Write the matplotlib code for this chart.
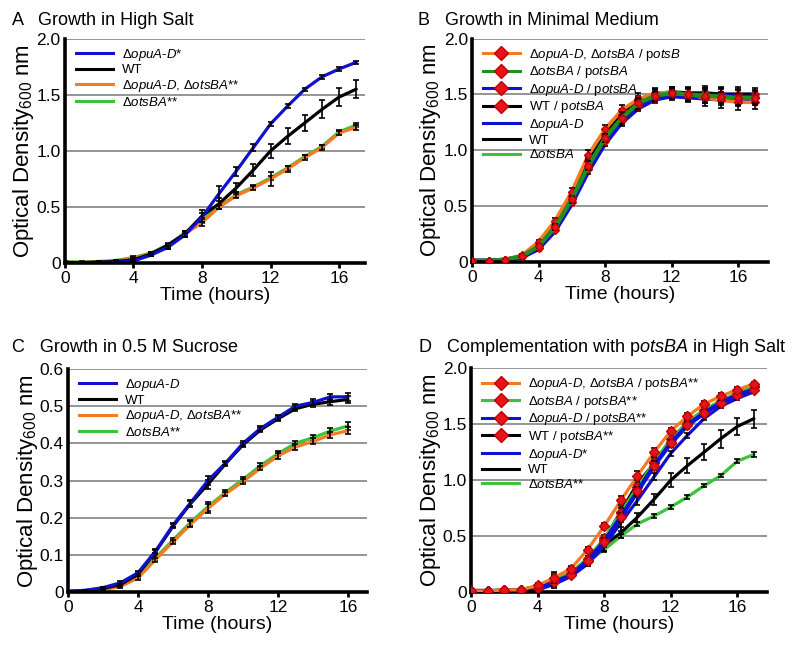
import numpy as np
import matplotlib
matplotlib.use("Agg")
import matplotlib.pyplot as plt
from matplotlib.lines import Line2D

plt.rcParams['font.family'] = 'Liberation Sans'
plt.rcParams['mathtext.fontset'] = 'custom'
plt.rcParams['mathtext.rm'] = 'Liberation Sans'
plt.rcParams['mathtext.it'] = 'Liberation Sans:italic'

# ---- data (OD600) ----
hours17 = np.arange(18)
hours16 = np.arange(17)

# A: high salt
a_opuA = [0.00, 0.00, 0.005, 0.01, 0.02, 0.07, 0.14, 0.25, 0.41, 0.62, 0.82, 1.03, 1.24, 1.40, 1.55, 1.66, 1.73, 1.79]
a_opuA_err = [0.005, 0.005, 0.005, 0.005, 0.01, 0.01, 0.015, 0.02, 0.04, 0.07, 0.04, 0.03, 0.02, 0.02, 0.015, 0.015, 0.015, 0.015]
a_wt = [0.005, 0.005, 0.01, 0.015, 0.03, 0.08, 0.16, 0.26, 0.42, 0.53, 0.67, 0.83, 1.00, 1.13, 1.25, 1.37, 1.48, 1.55]
a_wt_err = [0.005, 0.005, 0.005, 0.01, 0.01, 0.015, 0.02, 0.03, 0.05, 0.05, 0.04, 0.05, 0.06, 0.07, 0.07, 0.08, 0.08, 0.08]
a_double = [0.01, 0.005, 0.01, 0.02, 0.045, 0.08, 0.15, 0.26, 0.36, 0.50, 0.60, 0.67, 0.75, 0.84, 0.94, 1.03, 1.16, 1.21]
a_double_err = [0.005, 0.005, 0.005, 0.005, 0.01, 0.015, 0.02, 0.03, 0.03, 0.02, 0.02, 0.015, 0.06, 0.03, 0.02, 0.02, 0.02, 0.02]
a_ots = [0.015, 0.01, 0.015, 0.025, 0.05, 0.09, 0.16, 0.27, 0.38, 0.50, 0.61, 0.68, 0.76, 0.85, 0.95, 1.04, 1.17, 1.23]
a_ots_err = [0.005, 0.005, 0.005, 0.005, 0.01, 0.01, 0.015, 0.02, 0.02, 0.02, 0.02, 0.015, 0.02, 0.02, 0.015, 0.015, 0.02, 0.02]

# B: minimal medium
b_double_c = [0.01, 0.01, 0.02, 0.06, 0.18, 0.37, 0.63, 0.96, 1.19, 1.36, 1.46, 1.51, 1.52, 1.50, 1.47, 1.45, 1.43, 1.43]
b_ots_c = [0.01, 0.01, 0.02, 0.05, 0.14, 0.31, 0.56, 0.86, 1.11, 1.29, 1.42, 1.49, 1.51, 1.50, 1.49, 1.48, 1.47, 1.47]
b_opuA_c = [0.01, 0.01, 0.015, 0.045, 0.12, 0.29, 0.54, 0.83, 1.08, 1.27, 1.40, 1.47, 1.50, 1.49, 1.49, 1.49, 1.48, 1.48]
b_wt_c = [0.01, 0.01, 0.02, 0.05, 0.15, 0.33, 0.59, 0.90, 1.14, 1.32, 1.44, 1.50, 1.52, 1.51, 1.51, 1.50, 1.50, 1.50]
b_opuA = [0.005, 0.005, 0.01, 0.035, 0.11, 0.27, 0.51, 0.80, 1.05, 1.24, 1.37, 1.45, 1.48, 1.47, 1.46, 1.45, 1.45, 1.45]
b_wt = [0.01, 0.01, 0.02, 0.05, 0.14, 0.31, 0.57, 0.87, 1.12, 1.31, 1.44, 1.50, 1.51, 1.51, 1.50, 1.50, 1.49, 1.49]
b_ots = [0.01, 0.01, 0.02, 0.045, 0.13, 0.30, 0.55, 0.85, 1.10, 1.29, 1.42, 1.49, 1.50, 1.50, 1.49, 1.48, 1.48, 1.48]
b_err = [0.005, 0.005, 0.005, 0.01, 0.02, 0.025, 0.03, 0.04, 0.04, 0.05, 0.05, 0.05, 0.05, 0.06, 0.07, 0.07, 0.07, 0.06]

# C: 0.5 M sucrose
c_opuA = [0.002, 0.005, 0.012, 0.025, 0.052, 0.11, 0.18, 0.24, 0.30, 0.347, 0.40, 0.44, 0.47, 0.50, 0.51, 0.525, 0.525]
c_wt = [0.002, 0.004, 0.01, 0.02, 0.048, 0.108, 0.177, 0.238, 0.29, 0.345, 0.396, 0.436, 0.466, 0.493, 0.505, 0.512, 0.518]
c_double = [0.0, 0.002, 0.006, 0.015, 0.038, 0.087, 0.135, 0.182, 0.225, 0.264, 0.297, 0.333, 0.366, 0.39, 0.405, 0.423, 0.434]
c_ots = [0.002, 0.004, 0.008, 0.018, 0.042, 0.092, 0.14, 0.187, 0.23, 0.268, 0.303, 0.34, 0.372, 0.40, 0.415, 0.433, 0.447]
c_err = [0.002, 0.002, 0.003, 0.004, 0.005, 0.005, 0.005, 0.008, 0.012, 0.006, 0.006, 0.006, 0.007, 0.007, 0.008, 0.008, 0.01]

# D: complementation in high salt
d_double_c = [0.01, 0.01, 0.02, 0.02, 0.06, 0.13, 0.21, 0.38, 0.59, 0.82, 1.04, 1.25, 1.44, 1.57, 1.68, 1.75, 1.81, 1.86]
d_ots_c = [0.01, 0.01, 0.02, 0.02, 0.05, 0.11, 0.17, 0.30, 0.48, 0.71, 0.94, 1.16, 1.37, 1.52, 1.63, 1.71, 1.78, 1.84]
d_opuA_c = [0.01, 0.01, 0.01, 0.02, 0.04, 0.09, 0.15, 0.28, 0.45, 0.67, 0.90, 1.13, 1.33, 1.49, 1.60, 1.69, 1.76, 1.81]
d_wt_c = [0.01, 0.01, 0.02, 0.02, 0.05, 0.10, 0.17, 0.30, 0.47, 0.72, 0.97, 1.15, 1.34, 1.50, 1.61, 1.70, 1.77, 1.83]
d_err = [0.005, 0.005, 0.005, 0.005, 0.02, 0.05, 0.02, 0.02, 0.03, 0.04, 0.04, 0.04, 0.03, 0.03, 0.03, 0.03, 0.02, 0.02]

BLUE = '#1010d0'
ORANGE = '#f57a22'
GREEN = '#3cc23c'
DGREEN = '#1f8f1f'
BLACK = '#000000'
RED = '#e8141c'


def it(s):
    return r'$\mathit{' + s + '}$'


def L(*parts):
    return ''.join(parts)


lab_opuA = L(it('ΔopuA'), '-', it('D'))
lab_ots = it('ΔotsBA')
lab_double = L(lab_opuA, ', ', lab_ots)
lab_p = L('p', it('otsBA'))


def series(ax, x, y, err, color, lw=2.3, markers=False, z=2, ms=5):
    ax.plot(x, y, color=color, lw=lw, zorder=z, solid_capstyle='round')
    ax.errorbar(x, y, yerr=err, fmt='none', ecolor='black', elinewidth=1.2,
                capsize=2.5, capthick=1.2, zorder=z + 0.5)
    if markers:
        ax.plot(x, y, 'D', color=RED, mec='#c00000', ms=ms, zorder=z + 0.7)


def style(ax, ymax, ystep, xmax):
    ax.set_xlim(0, xmax)
    ax.set_ylim(0, ymax)
    ax.set_xticks([0, 4, 8, 12, 16])
    yt = np.round(np.arange(0, ymax + 1e-9, ystep), 2)
    ax.set_yticks(yt)
    ax.set_yticklabels(['0'] + ['%.1f' % v for v in yt[1:]])
    for v in yt[1:]:
        ax.axhline(v, color='#8c8c8c', lw=1.3, zorder=0)
    for s in ['top', 'right']:
        ax.spines[s].set_visible(False)
    for s in ['left', 'bottom']:
        ax.spines[s].set_linewidth(2.6)
        ax.spines[s].set_zorder(5)
    ax.tick_params(axis='y', length=0, labelsize=12.5, pad=3)
    ax.tick_params(axis='x', length=3.5, width=2, labelsize=12.5, pad=2)
    ax.set_xlabel('Time (hours)', fontsize=14, labelpad=1)
    ax.set_ylabel(r'Optical Density$_{600}$ nm', fontsize=16, labelpad=0)


def legend(ax, items):
    handles = []
    for color, lab, mk in items:
        h = Line2D([], [], color=color, lw=2.2, marker='D' if mk else None,
                   mfc=RED, mec='#c00000', ms=7)
        handles.append((h, lab))
    ax.legend([h for h, _ in handles], [l for _, l in handles], loc='upper left',
              frameon=False, fontsize=9.5, handlelength=2.8, handletextpad=0.7,
              labelspacing=0.12, borderaxespad=0.2, bbox_to_anchor=(0.01, 1.0))


fig = plt.figure(figsize=(8, 6.45), dpi=100)
axA = fig.add_axes([0.081, 0.592, 0.375, 0.348])
axB = fig.add_axes([0.590, 0.594, 0.370, 0.346])
axC = fig.add_axes([0.085, 0.082, 0.374, 0.346])
axD = fig.add_axes([0.589, 0.082, 0.370, 0.347])

# A
series(axA, hours17, a_ots, a_ots_err, GREEN, z=2)
series(axA, hours17, a_double, a_double_err, ORANGE, z=3)
series(axA, hours17, a_wt, a_wt_err, BLACK, z=4)
series(axA, hours17, a_opuA, a_opuA_err, BLUE, z=5)
style(axA, 2.0, 0.5, 17.5)
legend(axA, [(BLUE, lab_opuA + '*', False), (BLACK, 'WT', False),
             (ORANGE, lab_double + '**', False), (GREEN, lab_ots + '**', False)])

# B
axB.plot(hours17, b_ots, color=GREEN, lw=2.3, zorder=2)
axB.plot(hours17, b_wt, color=BLACK, lw=2.3, zorder=2)
axB.plot(hours17, b_opuA, color=BLUE, lw=2.3, zorder=2)
series(axB, hours17, b_wt_c, b_err, BLACK, lw=3, markers=True, z=3, ms=4.5)
series(axB, hours17, b_opuA_c, b_err, BLUE, lw=3, markers=True, z=4, ms=4.5)
series(axB, hours17, b_ots_c, b_err, DGREEN, lw=3, markers=True, z=5, ms=4.5)
series(axB, hours17, b_double_c, b_err, ORANGE, lw=2.6, markers=True, z=3.2, ms=4.5)
style(axB, 2.0, 0.5, 17.8)
legend(axB, [(ORANGE, L(lab_double, ' / p', it('otsB')), True),
             (DGREEN, L(lab_ots, ' / ', lab_p), True),
             (BLUE, L(lab_opuA, ' / ', lab_p), True),
             (BLACK, L('WT / ', lab_p), True),
             (BLUE, lab_opuA, False), (BLACK, 'WT', False), (GREEN, lab_ots, False)])

# C
series(axC, hours16, c_ots, c_err, GREEN, z=2)
series(axC, hours16, c_double, c_err, ORANGE, z=3)
series(axC, hours16, c_wt, c_err, BLACK, z=4)
series(axC, hours16, c_opuA, c_err, BLUE, z=5)
style(axC, 0.6, 0.1, 17.1)
legend(axC, [(BLUE, lab_opuA, False), (BLACK, 'WT', False),
             (ORANGE, lab_double + '**', False), (GREEN, lab_ots + '**', False)])

# D
series(axD, hours17, a_ots, a_ots_err, GREEN, z=2)
series(axD, hours17, a_wt, a_wt_err, BLACK, z=2)
series(axD, hours17, a_opuA, a_opuA_err, BLUE, z=2)
series(axD, hours17, d_wt_c, d_err, BLACK, markers=True, z=3)
series(axD, hours17, d_ots_c, d_err, GREEN, markers=True, z=4)
series(axD, hours17, d_opuA_c, d_err, BLUE, lw=3.2, markers=True, z=5)
series(axD, hours17, d_double_c, d_err, ORANGE, markers=True, z=6)
style(axD, 2.0, 0.5, 17.8)
legend(axD, [(ORANGE, L(lab_double, ' / ', lab_p, '**'), True),
             (GREEN, L(lab_ots, ' / ', lab_p, '**'), True),
             (BLUE, L(lab_opuA, ' / ', lab_p, '**'), True),
             (BLACK, L('WT / ', lab_p, '**'), True),
             (BLUE, lab_opuA + '*', False), (BLACK, 'WT', False), (GREEN, lab_ots + '**', False)])

fs = 13
fig.text(0.015, 0.962, 'A   Growth in High Salt', fontsize=fs)
fig.text(0.522, 0.962, 'B   Growth in Minimal Medium', fontsize=fs)
fig.text(0.015, 0.455, 'C   Growth in 0.5 M Sucrose', fontsize=fs)
fig.text(0.522, 0.455, L('D   Complementation with ', lab_p, ' in High Salt'), fontsize=fs)

fig.savefig('out.png', dpi=100)
